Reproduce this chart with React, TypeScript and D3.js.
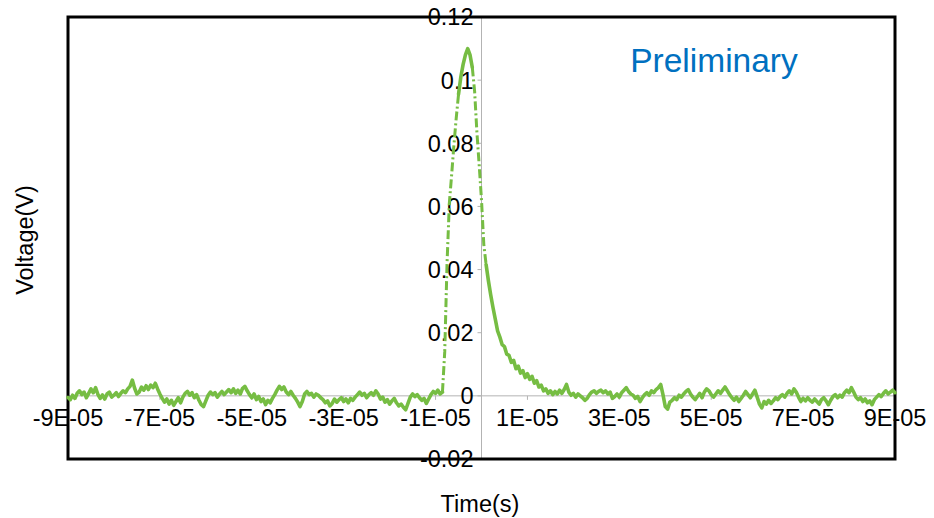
import React from "react";
import * as d3 from "d3";

// ---- data ----
const timeStartUs = -90;
const timeStepUs = 0.5;
// measured voltage in mV, one sample every 0.5 µs from -90 µs to +90 µs
const voltageMv = [
  -0.5, -1.2, 0.2, -0.8, 0.8, 1.6, 0.4, 1.2, -0.6, 0.8,
  2.2, 1.0, 2.6, 0.5, -0.8, 0.3, -1.0, 0.6, 1.2, -0.4,
  0.2, 1.0, -0.2, 0.8, 1.6, 1.0, 2.2, 3.0, 5.0, 2.4,
  0.6, 1.2, 2.8, 1.8, 3.2, 2.0, 3.4, 2.6, 4.0, 2.2,
  0.6, -0.8, -2.0, -1.0, -2.6, -1.4, -3.0, -1.8, -0.6, -2.2,
  -0.4, 0.8, 1.4, 0.2, 1.0, -0.6, 0.4, -1.4, -2.8, -3.4,
  -1.6, 0.2, 1.2, 0.4, 1.0, -0.4, 0.6, 1.4, 0.4, 1.2,
  2.0, 1.0, 2.2, 0.8, 1.8, 0.6, 2.4, 3.0, 1.6, 0.4,
  -0.6, 0.6, -1.2, -0.2, -1.8, -1.0, -2.8, -1.4, -2.2, -0.8,
  0.4, 1.8, 3.0, 2.0, 2.8, 1.2, 0.4, 1.4, 0.2, -0.8,
  -2.0, -3.4, -1.8, 0.6, 1.4, 0.4, 0.8, -0.4, 0.6, 0.2,
  -0.6, -1.2, -2.2, -1.6, -3.2, -2.4, -1.0, -2.0, -1.2, -0.6,
  -1.8, -1.0, -2.2, -0.8, -1.4, -0.4, 0.4, 1.2, 0.2, 0.8,
  -0.6, 0.4, 1.0, 0.2, 1.6, 0.6, -1.0, -0.4, -2.0, -1.2,
  -2.6, -1.6, -0.8, -2.2, -3.2, -2.6, -3.6, -4.4, -2.4, -0.4,
  0.6, -0.2, 0.4, -0.6, -1.4, -0.8, -2.4, -1.0, 0.4, 1.4,
  0.8, 1.8, 0.6, 1.2, 14, 42, 61, 70, 79.5, 88,
  95.5, 101, 105, 108, 110, 108, 104, 96.5, 83.5, 73,
  62, 48, 41.6, 36.5, 32, 28, 24.3, 20.6, 18.6, 16.2,
  15.6, 13.2, 12.8, 10.6, 11.2, 8.6, 9.4, 7.2, 8.0, 5.8,
  7.0, 5.2, 6.2, 4.0, 4.8, 2.8, 3.4, 1.6, 2.2, 0.8,
  1.6, 0.4, 1.4, 0.6, 1.8, 0.8, 2.0, 3.6, 1.2, 0.2,
  0.8, -0.4, 0.6, 0.0, -0.6, -1.4, -0.8, 0.4, 1.2, 1.6,
  0.8, 1.4, 1.8, 1.0, 1.6, 0.6, 1.2, -0.8, -0.2, 0.6,
  -0.4, 1.0, 1.8, 2.6, 1.4, 0.6, 0.2, -0.8, -0.2, -1.8,
  -0.6, 0.4, 1.0, 0.2, 1.6, 1.0, 2.0, 2.6, 3.6, 0.4,
  -3.4, -4.2, -2.0, -1.4, -0.6, -1.2, 0.2, -0.4, 0.6, 1.4,
  2.0, 0.6, -0.4, -1.2, -0.2, 0.8, -0.6, 1.2, 2.2, 1.6,
  0.4, -0.4, 0.6, 1.6, 0.8, 1.8, 2.8, 1.6, 0.4, -0.6,
  -1.4, -0.4, -1.8, -0.8, 0.2, 1.4, 0.4, -0.6, 0.6, 1.8,
  -0.4, -2.6, -3.8, -1.8, -2.6, -1.4, -2.4, -1.6, -0.6, -1.2,
  -0.2, 0.4, -0.4, 0.8, 1.6, 0.6, 2.2, 1.2, -0.4, -1.8,
  -0.8, -1.6, -0.6, -1.4, -2.0, -1.0, -1.8, -2.6, -1.2, -0.6,
  -1.6, -2.8, -1.4, -0.2, 0.4, -0.6, 0.2, -0.4, 1.0, 1.8,
  1.0, 2.6, 1.2, -0.4, -1.2, -0.6, -1.8, -1.0, -2.2, -1.6,
  -2.8, -1.2, -0.4, 0.4, -0.2, 0.8, 1.6, 0.6, 1.2, 1.8,
  1.0,
];
const xTickValues = [-9e-5, -7e-5, -5e-5, -3e-5, -1e-5, 1e-5, 3e-5, 5e-5, 7e-5, 9e-5];
const yTickValues = [-0.02, 0, 0.02, 0.04, 0.06, 0.08, 0.1, 0.12];
const xDomain = [-9e-5, 9e-5];
const yDomain = [-0.02, 0.12];
const xTitle = "Time(s)";
const yTitle = "Voltage(V)";
const noteText = "Preliminary";

// ---- layout ----
const W = 934;
const H = 518;
const plot = { left: 68, right: 895, top: 17, bottom: 459 };
const FONT = "'Liberation Sans', Arial, sans-serif";
const GREEN = "#76bd43";

function fmtX(v: number) {
  const [m, e] = v.toExponential(0).split("e");
  const n = +e;
  return `${m}E${n < 0 ? "-" : "+"}${String(Math.abs(n)).padStart(2, "0")}`;
}
function fmtY(v: number) {
  return String(+v.toFixed(2));
}

export default function App() {
  const x = d3.scaleLinear().domain(xDomain).range([plot.left, plot.right]);
  const y = d3.scaleLinear().domain(yDomain).range([plot.bottom, plot.top]);

  const pts = voltageMv.map((v, i) => ({
    t: (timeStartUs + i * timeStepUs) * 1e-6,
    v: v / 1000,
  }));

  // split into runs of steep (rendered dashed) and gentle (solid) segments
  type Run = { steep: boolean; pts: { t: number; v: number }[] };
  const runs: Run[] = [];
  let cur: Run | null = null;
  for (let i = 0; i < pts.length - 1; i++) {
    const a = pts[i];
    const b = pts[i + 1];
    const dx = x(b.t) - x(a.t);
    const dy = y(b.v) - y(a.v);
    const steep = Math.abs(dy) > 8 * Math.abs(dx);
    if (!cur || cur.steep !== steep) {
      cur = { steep, pts: [a] };
      runs.push(cur);
    }
    cur.pts.push(b);
  }

  const line = d3
    .line<{ t: number; v: number }>()
    .x((d) => x(d.t))
    .y((d) => y(d.v));

  const x0 = x(0);
  const y0 = y(0);

  return (
    <div style={{ position: "absolute", left: 0, top: 0 }}>
      <svg width={W} height={H} style={{ display: "block", background: "#fff" }}>
        {/* axis lines through origin */}
        <line x1={plot.left} x2={plot.right} y1={y0} y2={y0} stroke="#b3b3b3" strokeWidth={1} />
        <line x1={x0} x2={x0} y1={plot.top} y2={plot.bottom} stroke="#b3b3b3" strokeWidth={1} />
        {xTickValues.map((t) => (
          <line key={"xt" + t} x1={x(t)} x2={x(t)} y1={y0} y2={y0 + 4} stroke="#b3b3b3" strokeWidth={1} />
        ))}
        {yTickValues.map((v) => (
          <line key={"yt" + v} x1={x0 - 4} x2={x0} y1={y(v)} y2={y(v)} stroke="#b3b3b3" strokeWidth={1} />
        ))}

        {/* plot frame */}
        <rect
          x={plot.left}
          y={plot.top}
          width={plot.right - plot.left}
          height={plot.bottom - plot.top}
          fill="none"
          stroke="#000"
          strokeWidth={3}
        />

        {/* tick labels */}
        {xTickValues.map((t) => (
          <text key={"xl" + t} x={x(t)} y={y0 + 30} textAnchor="middle" fontFamily={FONT} fontSize={23.5} fill="#000">
            {fmtX(t)}
          </text>
        ))}
        {yTickValues.map((v) => (
          <text key={"yl" + v} x={x0 - 8} y={y(v) + 8.4} textAnchor="end" fontFamily={FONT} fontSize={23.5} fill="#000">
            {fmtY(v)}
          </text>
        ))}

        {/* data */}
        {runs.map((r, i) => (
          <path
            key={"run" + i}
            d={line(r.pts) || ""}
            fill="none"
            stroke={GREEN}
            strokeWidth={r.steep ? 3 : 3.6}
            strokeLinejoin="round"
            strokeLinecap={r.steep ? "butt" : "round"}
            strokeDasharray={r.steep ? "9 3 2 3" : undefined}
          />
        ))}

        {/* titles */}
        <text x={480} y={512} textAnchor="middle" fontFamily={FONT} fontSize={23.5} fill="#000">
          {xTitle}
        </text>
        <text
          transform={`translate(33, 240) rotate(-90)`}
          textAnchor="middle"
          fontFamily={FONT}
          fontSize={23.5}
          fill="#000"
        >
          {yTitle}
        </text>
        <text x={714} y={72} textAnchor="middle" fontFamily={FONT} fontSize={33.5} fill="#0070c0">
          {noteText}
        </text>
      </svg>
    </div>
  );
}
